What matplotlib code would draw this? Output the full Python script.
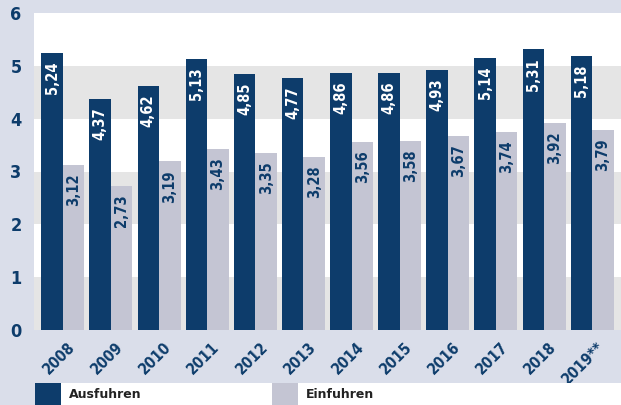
import matplotlib
matplotlib.use("Agg")
import matplotlib.pyplot as plt
from matplotlib.patches import Rectangle
import numpy as np

years = ["2008", "2009", "2010", "2011", "2012", "2013", "2014", "2015",
         "2016", "2017", "2018", "2019**"]
ausfuhren = [5.24, 4.37, 4.62, 5.13, 4.85, 4.77, 4.86, 4.86, 4.93, 5.14, 5.31, 5.18]
einfuhren = [3.12, 2.73, 3.19, 3.43, 3.35, 3.28, 3.56, 3.58, 3.67, 3.74, 3.92, 3.79]

dark = "#0d3c6b"
light = "#c4c5d3"
bg = "#dadeea"
band = "#e5e5e5"

fig = plt.figure(figsize=(6.21, 4.05), dpi=100, facecolor=bg)
ax = fig.add_axes([34 / 621, 75 / 405, 587 / 621, 317 / 405])
ax.set_facecolor("white")

# alternating bands
for lo in range(0, 6):
    if lo % 2 == 0:
        ax.axhspan(lo, lo + 1, color=band, zorder=0, lw=0)

x = np.arange(len(years))
w = 0.447
ax.bar(x - w / 2, ausfuhren, w, color=dark, zorder=2)
ax.bar(x + w / 2, einfuhren, w, color=light, zorder=2)

def fmt(v):
    return f"{v:.2f}".replace(".", ",")

for i in range(len(years)):
    ax.text(x[i] - w / 2, ausfuhren[i] - 0.16, fmt(ausfuhren[i]), rotation=90,
            ha="center", va="top", color="white", fontsize=10.5,
            fontweight="bold", fontstretch="condensed", zorder=3)
    ax.text(x[i] + w / 2, einfuhren[i] - 0.16, fmt(einfuhren[i]), rotation=90,
            ha="center", va="top", color=dark, fontsize=10.5,
            fontweight="bold", fontstretch="condensed", zorder=3)

ax.set_xlim(-0.6, 11.6)
ax.set_ylim(0, 6)
ax.set_yticks(range(0, 7))
ax.set_yticklabels([str(v) for v in range(0, 7)], fontsize=13,
                   fontweight="bold", color=dark, fontstretch="condensed")
ax.set_xticks(x + 0.1)
ax.set_xticklabels(years, rotation=45, ha="right", rotation_mode="anchor",
                   fontsize=11, fontweight="bold", color=dark,
                   fontstretch="condensed")
ax.tick_params(length=0, pad=7)
ax.tick_params(axis="y", pad=9)
for s in ax.spines.values():
    s.set_visible(False)

# legend strip
def frect(x0, x1, color):
    fig.patches.append(Rectangle((x0 / 621, 0), (x1 - x0) / 621, 22 / 405,
                                 transform=fig.transFigure, color=color, lw=0))

frect(35, 61, dark)
frect(61, 272, "white")
frect(272, 298, light)
frect(298, 621, "white")
fig.text(69 / 621, 10 / 405, "Ausfuhren", fontsize=9, fontweight="bold",
         color="#222222", va="center")
fig.text(306 / 621, 10 / 405, "Einfuhren", fontsize=9, fontweight="bold",
         color="#222222", va="center")

fig.savefig("out.png", dpi=100, facecolor=bg)
